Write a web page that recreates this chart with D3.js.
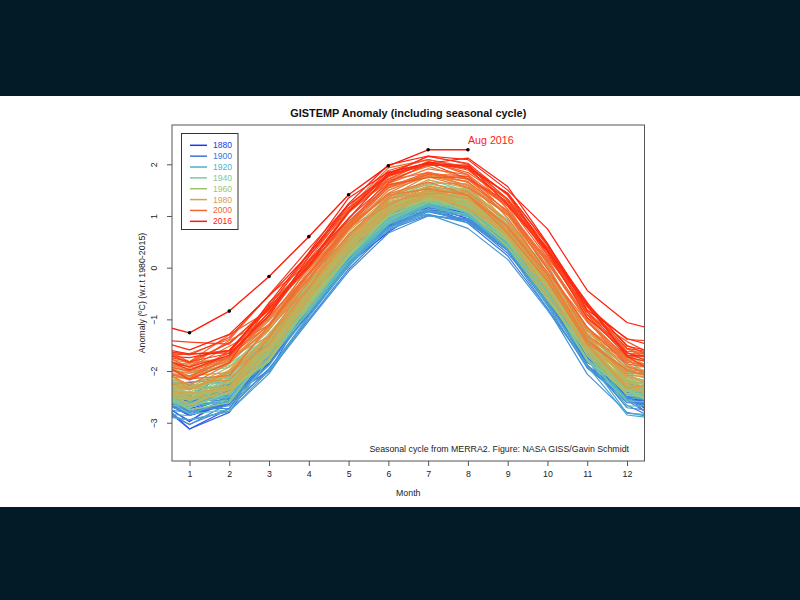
<!DOCTYPE html>
<html><head><meta charset="utf-8">
<script src="https://cdn.jsdelivr.net/npm/d3@7"></script>
<style>
html,body{margin:0;padding:0;background:#031b27;}
svg{display:block;font-family:"Liberation Sans",Arial,sans-serif;}
</style></head>
<body>
<svg id="chart" width="800" height="600"></svg>
<script>
// Month categories and tick labels
const months = [1,2,3,4,5,6,7,8,9,10,11,12];
const yTicks = [-3,-2,-1,0,1,2];
// MERRA2 seasonal cycle (degC, relative to annual mean)
const seasonal = [-1.94,-1.70,-0.99,-0.02,0.94,1.65,1.91,1.76,1.15,0.15,-1.00,-1.70];
// Offset of 1980-2015 mean relative to 1951-1980 GISTEMP baseline
const baseline = 0.46;
// Legend years and colours
const legendYears = [1880,1900,1920,1940,1960,1980,2000,2016];
const legendColors = ["#2038f4","#3a74e0","#4fb0cc","#7dca9c","#a3c46e","#d9a04c","#f4652e","#ff1a0a"];
// GISTEMP monthly anomalies (hundredths degC vs 1951-1980): year, Jan..Dec
const anomalies = [
[1880,-29,-21,-18,-27,-14,-29,-24,-8,-17,-16,-19,-21],
[1881,-19,-14,2,-3,-6,-28,-7,-3,-15,-22,-18,-7],
[1882,17,9,2,-19,-14,-22,-15,-6,-14,-23,-16,-36],
[1883,-29,-37,-12,-19,-18,-7,-7,-14,-22,-11,-24,-18],
[1884,-13,-8,-36,-40,-33,-35,-31,-27,-27,-25,-33,-31],
[1885,-58,-29,-24,-44,-41,-50,-28,-27,-19,-20,-14,-4],
[1886,-43,-46,-41,-29,-27,-39,-18,-30,-24,-27,-26,-25],
[1887,-72,-57,-36,-35,-31,-25,-26,-35,-26,-35,-26,-38],
[1888,-33,-36,-41,-20,-22,-17,-9,-11,-7,2,-5,-6],
[1889,-9,16,5,2,-3,-12,-7,-19,-19,-24,-26,-29],
[1890,-46,-44,-40,-37,-46,-25,-29,-40,-36,-23,-43,-31],
[1891,-46,-48,-15,-25,-16,-22,-20,-18,-18,-20,-37,-4],
[1892,-30,-14,-35,-34,-25,-27,-33,-27,-17,-9,-43,-34],
[1893,-72,-64,-27,-32,-35,-21,-11,-22,-21,-21,-26,-36],
[1894,-56,-38,-21,-38,-33,-38,-21,-26,-26,-20,-31,-25],
[1895,-45,-42,-28,-18,-18,-16,-12,-9,-13,-11,-17,-13],
[1896,-23,-10,-26,-23,-10,-3,-4,-6,-5,-8,-21,-11],
[1897,-16,-14,-14,-3,-2,-13,-9,-10,-6,-7,-17,-24],
[1898,-1,-33,-55,-27,-29,-23,-22,-23,-22,-33,-37,-17],
[1899,-17,-40,-24,-16,-22,-26,-12,-2,-4,0,7,-29],
[1900,-34,-4,3,-2,-7,-4,-5,-5,-5,-11,-3,-9],
[1901,-27,-10,3,-5,-10,-13,-13,-16,-19,-23,-8,-24],
[1902,-17,-2,-26,-30,-33,-30,-27,-29,-27,-35,-42,-45],
[1903,-22,-12,-27,-40,-37,-40,-32,-44,-46,-48,-42,-50],
[1904,-63,-56,-50,-52,-51,-45,-44,-39,-41,-33,-30,-40],
[1905,-34,-56,-22,-33,-28,-29,-22,-19,-22,-28,-9,-16],
[1906,-25,-28,-21,-7,-23,-21,-23,-12,-27,-23,-37,-13],
[1907,-39,-51,-29,-38,-45,-41,-36,-38,-28,-27,-46,-41],
[1908,-37,-34,-53,-45,-40,-36,-35,-40,-33,-42,-48,-41],
[1909,-64,-46,-56,-55,-55,-52,-45,-35,-35,-39,-33,-55],
[1910,-40,-41,-42,-42,-38,-42,-37,-37,-36,-48,-60,-64],
[1911,-55,-62,-60,-46,-44,-41,-42,-43,-35,-25,-19,-31],
[1912,-26,-16,-36,-16,-25,-28,-42,-54,-53,-51,-42,-42],
[1913,-40,-45,-44,-35,-39,-42,-35,-31,-34,-30,-16,-17],
[1914,7,-17,-21,-26,-20,-27,-21,-14,-16,-5,-13,-6],
[1915,-19,-8,-15,-8,-1,-14,-7,-14,-17,-22,-21,-18],
[1916,-15,-25,-37,-32,-35,-47,-35,-27,-33,-35,-44,-69],
[1917,-54,-62,-54,-47,-45,-36,-22,-21,-26,-42,-30,-66],
[1918,-46,-35,-22,-40,-41,-34,-21,-31,-24,-10,-15,-28],
[1919,-23,-34,-23,-21,-29,-35,-24,-30,-19,-25,-33,-36],
[1920,-14,-22,-2,-26,-29,-34,-26,-20,-18,-23,-32,-40],
[1921,-3,-17,-25,-24,-27,-25,-13,-20,-14,-6,-11,-12],
[1922,-28,-43,-13,-25,-35,-26,-23,-29,-31,-29,-15,-20],
[1923,-22,-34,-27,-37,-34,-21,-27,-27,-23,-5,-5,-9],
[1924,-25,-31,-5,-20,-22,-22,-23,-30,-24,-31,-16,-40],
[1925,-26,-24,-18,-13,-27,-33,-21,-20,-16,-12,0,6],
[1926,12,-4,-2,-18,-21,-24,-22,-12,-14,-8,-2,-23],
[1927,-23,-20,-34,-26,-23,-26,-17,-24,-9,-4,-10,-31],
[1928,0,-7,-32,-28,-23,-30,-17,-19,-21,-18,-13,-17],
[1929,-43,-59,-34,-37,-35,-34,-31,-26,-25,-18,-18,-52],
[1930,-26,-17,-5,-17,-18,-13,-15,-10,-13,-5,7,-15],
[1931,-5,-18,-6,-17,-14,-4,-2,-7,-9,-2,-8,-4],
[1932,12,-20,-23,-9,-15,-22,-17,-15,-4,-12,-24,-15],
[1933,-29,-26,-33,-22,-24,-30,-18,-23,-27,-20,-33,-42],
[1934,-20,-1,-26,-20,-10,-5,-8,-6,-11,-7,-2,-14],
[1935,-33,4,-12,-33,-27,-27,-19,-22,-17,-15,-31,-21],
[1936,-25,-40,-19,-16,-17,-18,-1,-6,-7,-6,-6,-4],
[1937,-12,2,-17,-8,-4,-5,0,8,11,7,3,-22],
[1938,4,5,9,7,-11,-15,-5,-3,0,10,5,-16],
[1939,-4,-6,-19,-4,-6,-3,-5,-5,-6,-2,9,41],
[1940,-13,10,13,20,10,13,13,9,12,9,17,27],
[1941,13,30,10,17,16,13,25,18,4,37,18,14],
[1942,28,1,6,10,4,6,0,-1,4,5,9,10],
[1943,-7,17,-6,9,4,-5,6,0,7,31,15,23],
[1944,36,23,25,17,15,14,17,20,24,22,10,-5],
[1945,13,-7,-4,12,2,-6,0,22,15,16,4,-21],
[1946,10,0,-5,4,-15,-20,-10,-12,-3,-3,-8,-31],
[1947,-12,-18,5,4,-8,0,-7,-8,-14,9,0,-11],
[1948,6,-14,-22,-11,-3,-9,-14,-9,-17,-8,-12,-24],
[1949,6,-16,-6,-6,-10,-20,-13,-9,-12,-8,-12,-20],
[1950,-31,-25,-8,-22,-11,-8,-12,-17,-10,-21,-35,-22],
[1951,-35,-45,-19,-6,2,-5,2,6,7,8,-8,12],
[1952,15,13,-12,3,-7,-6,4,6,7,-2,-15,-1],
[1953,5,11,10,19,7,6,2,6,3,6,-4,7],
[1954,-26,-7,-16,-19,-24,-20,-18,-15,-9,-2,7,-19],
[1955,15,-19,-37,-23,-22,-11,-15,-3,-11,-3,-25,-30],
[1956,-16,-28,-20,-17,-27,-15,-10,-21,-19,-28,-19,-10],
[1957,-13,-4,-8,2,11,15,3,15,6,2,10,17],
[1958,40,26,8,2,3,-6,4,-6,-3,4,4,-1],
[1959,6,9,18,11,-2,3,5,-2,-4,-7,-4,3],
[1960,-3,-16,-35,-7,-6,1,-3,4,7,2,-11,20],
[1961,5,17,7,9,12,11,2,2,5,1,4,-2],
[1962,5,15,6,-1,-7,4,3,-1,0,2,5,0],
[1963,-2,17,-14,-6,-5,0,7,24,21,15,14,-5],
[1964,-7,-12,-19,-29,-23,-6,-7,-20,-29,-31,-19,-27],
[1965,-5,-17,-7,-18,-9,-4,-13,-4,-14,-10,-8,-15],
[1966,-17,-3,-1,-14,-8,1,2,-6,-3,-12,-5,-13],
[1967,-10,-19,-3,-4,2,-7,-4,0,-5,7,-3,-7],
[1968,-25,-19,12,-7,-14,-7,-9,-4,-9,2,-5,-14],
[1969,-14,-13,1,15,11,4,-1,4,5,7,16,23],
[1970,8,24,3,3,-5,-3,-5,-12,4,-2,2,-11],
[1971,-3,-18,-19,-15,-9,-16,-5,-4,2,-2,-2,-7],
[1972,-27,-18,-1,-3,0,4,3,14,1,9,5,16],
[1973,26,33,30,26,22,18,11,6,5,12,10,-1],
[1974,-13,-25,-10,-8,-10,-4,-6,5,-10,-11,-10,-11],
[1975,5,6,14,4,8,-3,-4,-16,-5,-10,-15,-19],
[1976,-3,-16,-30,-8,-20,-13,-6,-14,-6,-25,-4,5],
[1977,3,18,24,26,27,24,15,12,14,6,26,9],
[1978,4,13,9,11,5,-9,1,-17,7,3,16,4],
[1979,7,-15,15,6,3,13,3,16,20,22,27,48],
[1980,28,41,25,29,37,17,25,24,20,17,27,20],
[1981,56,42,49,29,25,31,31,37,18,9,19,40],
[1982,4,13,-4,9,16,5,4,3,13,12,24,42],
[1983,52,42,42,27,36,20,19,32,35,17,31,16],
[1984,31,13,28,9,30,1,12,18,20,14,-3,-17],
[1985,19,-2,8,11,11,9,-2,17,11,10,6,8],
[1986,25,34,26,20,17,14,9,11,5,13,9,12],
[1987,31,42,12,23,25,30,39,25,35,31,23,46],
[1988,56,38,50,37,38,39,34,37,34,35,13,30],
[1989,12,31,31,27,15,17,33,30,32,31,15,35],
[1990,39,40,78,48,41,38,39,28,35,41,48,39],
[1991,41,51,33,53,35,52,51,41,50,30,31,34],
[1992,45,42,45,25,31,22,7,10,-2,5,0,19],
[1993,36,35,36,27,26,24,21,10,10,18,5,17],
[1994,25,7,34,43,32,42,31,25,34,43,45,33],
[1995,49,75,45,47,32,44,46,50,36,48,44,25],
[1996,23,45,33,34,29,25,37,47,27,22,41,37],
[1997,30,38,51,34,36,51,39,41,54,62,62,59],
[1998,58,86,62,63,68,74,64,65,44,45,49,59],
[1999,47,64,34,38,29,36,40,35,41,40,42,43],
[2000,25,57,57,56,37,35,36,41,39,28,30,30],
[2001,41,43,59,52,58,52,61,50,53,50,70,54],
[2002,74,77,92,56,63,53,60,54,63,54,60,43],
[2003,73,54,58,55,61,48,54,66,64,74,55,73],
[2004,58,70,65,61,42,41,29,46,50,64,71,50],
[2005,72,56,71,70,63,69,64,61,75,77,74,66],
[2006,55,71,62,48,46,61,53,69,63,68,71,77],
[2007,96,68,69,75,67,57,59,59,62,57,55,45],
[2008,23,32,73,50,48,45,57,42,59,63,61,51],
[2009,58,50,52,59,59,63,70,72,71,62,71,60],
[2010,71,81,92,85,74,61,58,62,55,70,79,44],
[2011,48,46,59,62,47,60,71,70,52,62,49,52],
[2012,42,47,53,69,73,59,55,63,75,76,74,47],
[2013,66,56,67,52,60,65,58,66,74,65,77,64],
[2014,73,51,76,77,87,66,57,82,88,78,64,79],
[2015,81,87,90,74,76,80,71,79,81,106,102,110],
[2016,114,132,128,108,93,78,83,98]
];
const highlightYear = 2016;

const svg = d3.select("#chart");
// background panel
svg.append("rect").attr("x",0).attr("y",96).attr("width",800).attr("height",411).attr("fill","#ffffff");

const L = 172, R = 644.5, T = 125, B = 461;
const x = d3.scaleLinear().domain([0.56, 12.44]).range([L, R]);
const y = d3.scaleLinear().domain([-3.74, 2.76]).range([B, T]);
const color = d3.scaleLinear().domain(legendYears).range(legendColors).interpolate(d3.interpolateRgb);

const val = (m, a) => seasonal[m-1] + a/100 - baseline;

svg.append("clipPath").attr("id","clip").append("rect")
  .attr("x",L).attr("y",T).attr("width",R-L).attr("height",B-T);

const series = anomalies.map((row, i) => {
  const yr = row[0], pts = [];
  if (i > 0) { const prev = anomalies[i-1]; pts.push({m:0, v: val(12, prev[12])}); }
  for (let m = 1; m < row.length; m++) pts.push({m, v: val(m, row[m])});
  if (i < anomalies.length-1) pts.push({m:13, v: val(1, anomalies[i+1][1])});
  return {yr, pts};
});

const line = d3.line().x(d => x(d.m)).y(d => y(d.v));
const g = svg.append("g").attr("clip-path","url(#clip)");
g.selectAll("path.yr").data(series).join("path")
  .attr("class","yr")
  .attr("d", d => line(d.pts))
  .attr("fill","none")
  .attr("stroke", d => color(d.yr))
  .attr("stroke-width", d => d.yr === highlightYear ? 1.4 : 1.2)
  .attr("stroke-linejoin","round");

// highlighted year points
const hl = series.find(s => s.yr === highlightYear);
svg.append("g").selectAll("circle").data(hl.pts.filter(p => p.m >= 1 && p.m <= 12)).join("circle")
  .attr("cx", d => x(d.m)).attr("cy", d => y(d.v)).attr("r", 1.8).attr("fill","#000");

const lastPt = hl.pts.filter(p => p.m <= 12).slice(-1)[0];
svg.append("text").attr("x", x(lastPt.m)).attr("y", y(lastPt.v) - 6)
  .attr("font-size", 10.7).attr("fill", "#ff1a0a").text("Aug 2016");

// frame
svg.append("rect").attr("x",L).attr("y",T).attr("width",R-L).attr("height",B-T)
  .attr("fill","none").attr("stroke","#555").attr("stroke-width",1);

// x axis
const xa = svg.append("g").attr("transform",`translate(0,${B})`)
  .call(d3.axisBottom(x).tickValues(months).tickFormat(d3.format("d")).tickSize(5).tickPadding(5));
xa.select(".domain").remove();
xa.selectAll("line").attr("stroke","#555");
xa.selectAll("text").attr("font-size",8.8).attr("fill","#222").attr("font-family","Liberation Sans, Arial, sans-serif");

// y axis
const ya = svg.append("g").attr("transform",`translate(${L},0)`)
  .call(d3.axisLeft(y).tickValues(yTicks).tickFormat(d3.format("d")).tickSize(5).tickPadding(0));
ya.select(".domain").remove();
ya.selectAll("line").attr("stroke","#555");
ya.selectAll("text")
  .attr("font-size",8.8).attr("fill","#222").attr("font-family","Liberation Sans, Arial, sans-serif")
  .attr("x",0).attr("dy",null).attr("text-anchor","middle")
  .attr("transform","translate(-18.5,0) rotate(-90)")
  .attr("dominant-baseline","central");

// title and labels
svg.append("text").attr("x",(L+R)/2).attr("y",117).attr("text-anchor","middle")
  .attr("font-size",10.9).attr("font-weight","bold").attr("fill","#111")
  .text("GISTEMP Anomaly (including seasonal cycle)");
svg.append("text").attr("x",(L+R)/2).attr("y",496).attr("text-anchor","middle")
  .attr("font-size",8.8).attr("fill","#222").text("Month");
svg.append("text").attr("transform",`translate(145,${(T+B)/2}) rotate(-90)`).attr("text-anchor","middle")
  .attr("font-size",8.8).attr("fill","#222").text("Anomaly (ºC) (w.r.t 1980-2015)");
svg.append("text").attr("x",629).attr("y",452).attr("text-anchor","end")
  .attr("font-size",8.8).attr("fill","#222")
  .text("Seasonal cycle from MERRA2. Figure: NASA GISS/Gavin Schmidt");

// legend
const lg = svg.append("g");
lg.append("rect").attr("x",181.5).attr("y",133.5).attr("width",56.5).attr("height",96)
  .attr("fill","#fff").attr("stroke","#333").attr("stroke-width",1);
legendYears.forEach((yr, i) => {
  const cy = 145.3 + i*10.86;
  lg.append("line").attr("x1",190).attr("x2",207).attr("y1",cy).attr("y2",cy)
    .attr("stroke",color(yr)).attr("stroke-width",1.5);
  lg.append("text").attr("x",213).attr("y",cy).attr("dy","0.35em")
    .attr("font-size",8.6).attr("fill",color(yr)).text(yr);
});
</script>
</body></html>
